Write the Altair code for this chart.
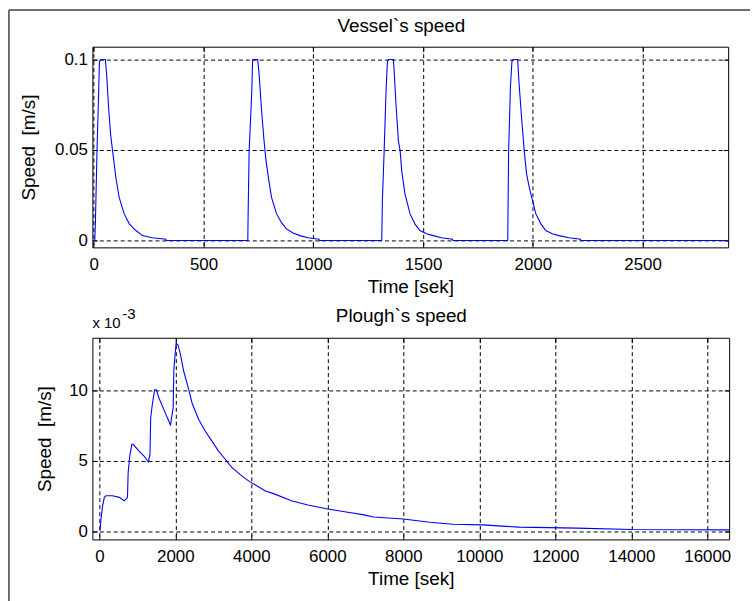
import altair as alt
import pandas as pd

FONT = "Liberation Sans"

# ---- Vessel's speed (m/s) ----
vessel_time = [0, 5, 8, 15, 23, 26, 32, 53, 59, 68, 77, 86, 101, 116, 139, 162, 192, 222, 267, 328, 330,
               702, 703, 708, 720, 724, 747, 753, 765, 776, 785, 798, 810, 833, 855, 878, 908, 939, 976, 1026, 1029,
               1312, 1315, 1323, 1332, 1338, 1343, 1365, 1368, 1377, 1388, 1396, 1403, 1418, 1441, 1463, 1486, 1516, 1546, 1584, 1634, 1636,
               1886, 1890, 1898, 1905, 1911, 1931, 1938, 1949, 1961, 1972, 1984, 1999, 2014, 2037, 2059, 2089, 2119, 2165, 2217, 2219, 2890]
vessel_speed = [0, 0, 0.011, 0.0495, 0.084, 0.099, 0.1, 0.1, 0.0916, 0.0733, 0.0586, 0.0495, 0.0348, 0.0238, 0.0147, 0.0092, 0.0055, 0.0027, 0.0015, 0.0007, 0,
                0, 0.011, 0.0495, 0.0824, 0.1, 0.1, 0.0925, 0.0714, 0.055, 0.044, 0.033, 0.0238, 0.0147, 0.010, 0.0064, 0.0042, 0.0027, 0.0015, 0.0007, 0,
                0, 0.022, 0.0495, 0.084, 0.099, 0.1, 0.1, 0.095, 0.075, 0.055, 0.0495, 0.0385, 0.0256, 0.0147, 0.0092, 0.0055, 0.0037, 0.0027, 0.0015, 0.0007, 0,
                0, 0.0495, 0.084, 0.099, 0.1, 0.1, 0.0861, 0.0678, 0.0495, 0.0366, 0.0293, 0.022, 0.0147, 0.0092, 0.0055, 0.0037, 0.0027, 0.0015, 0.0007, 0, 0]

# ---- Plough's speed (x 10^-3 m/s) ----
plough_time = [17, 44, 87, 131, 174, 349, 523, 654, 741, 758, 802, 854, 889, 1046, 1176, 1290, 1333, 1351, 1394,
               1455, 1499, 1569, 1699, 1830, 1874, 1900, 1943, 1961, 2005, 2021, 2073, 2136, 2222, 2353, 2440,
               2614, 2789, 2963, 3137, 3312, 3486, 3747, 3965, 4358, 4619, 5054, 5490, 6013, 6536, 6972,
               7216, 8000, 8698, 9307, 10092, 11051, 12575, 14013, 16583]
plough_speed = [0.05, 0.9, 1.83, 2.42, 2.54, 2.54, 2.42, 2.18, 2.42, 4.18, 5.35, 6.18, 6.18, 5.7, 5.35, 4.93, 5.47, 8.06, 9.0,
                10.05, 10.05, 9.46, 8.64, 7.82, 7.51, 8.06, 8.76, 11.46, 12.87, 13.34, 13.22, 12.51, 11.34, 10.05, 9.11,
                7.94, 7.11, 6.41, 5.7, 5.12, 4.54, 3.94, 3.52, 2.89, 2.65, 2.18, 1.88, 1.6, 1.37, 1.18,
                1.03, 0.89, 0.66, 0.52, 0.47, 0.31, 0.24, 0.14, 0.12]

vessel_x_ticks = [0, 500, 1000, 1500, 2000, 2500]
vessel_y_ticks = [0, 0.05, 0.1]
plough_x_ticks = [0, 2000, 4000, 6000, 8000, 10000, 12000, 14000, 16000]
plough_y_ticks = [0, 5, 10]

panel_titles = ["Vessel`s speed", "Plough`s speed"]
x_title = "Time [sek]"
y_title = "Speed\u00a0 [m/s]"
exponent_base = "x 10"
exponent_power = "-3"

vessel_df = pd.DataFrame({"t": vessel_time, "v": vessel_speed})
plough_df = pd.DataFrame({"t": plough_time, "v": plough_speed})

GRID = dict(grid=True, gridColor="black", gridDash=[4, 3], gridOpacity=1, gridWidth=1)


def panel(df, xdom, ydom, xt, yt, w, h, title, ytp):
    xs = alt.Scale(domain=xdom, nice=False, zero=False)
    ys = alt.Scale(domain=ydom, nice=False, zero=False)
    main = alt.Chart(df).mark_line(color="#0000ff", strokeWidth=1.1, clip=True).encode(
        x=alt.X("t:Q", scale=xs, axis=alt.Axis(orient="bottom", values=xt, format="d", title=x_title,
                                                ticks=False, tickSize=0, domain=False, labelFontSize=17,
                                                titleFontSize=19, titleFontWeight="normal",
                                                labelPadding=9, titlePadding=5,
                                                labelFlush=False, labelOverlap=False, **GRID)),
        y=alt.Y("v:Q", scale=ys, axis=alt.Axis(orient="left", values=yt, format="~r", title=y_title,
                                                ticks=False, tickSize=0, domain=False, labelFontSize=17,
                                                titleFontSize=19, titleFontWeight="normal",
                                                labelPadding=5, titlePadding=ytp,
                                                labelFlush=False, labelOverlap=False, **GRID)),
    )

    def ticks(xo, yo):
        kw = dict(labels=False, grid=False, domain=False, ticks=True, tickSize=5, offset=-5,
                  tickColor="black", tickWidth=1, title=None)
        return alt.Chart(df).mark_line(opacity=0).encode(
            x=alt.X("t:Q", scale=xs, axis=alt.Axis(orient=xo, values=xt, **kw)),
            y=alt.Y("v:Q", scale=ys, axis=alt.Axis(orient=yo, values=yt, **kw)),
        )

    ttl = alt.Chart(alt.Data(values=[{"s": title}])).mark_text(
        font=FONT, fontSize=19, align="center", baseline="alphabetic", color="black"
    ).encode(text="s:N", x=alt.value(311), y=alt.value(-15))
    return [main, ticks("bottom", "left"), ticks("top", "right"), ttl], w, h


top_layers, tw, th = panel(vessel_df, [-6, 2890], [-0.0038, 0.1071], vessel_x_ticks, vessel_y_ticks, 640, 202,
                           panel_titles[0], 16)
border = alt.Data(values=[{"k": 1}])
border_v = alt.Chart(border).mark_rule(color="#404040", strokeWidth=1.5).encode(
    x=alt.value(-84), y=alt.value(-37), y2=alt.value(560))
border_h = alt.Chart(border).mark_rule(color="#404040", strokeWidth=1.5).encode(
    x=alt.value(-84), x2=alt.value(662), y=alt.value(-37))
top = alt.layer(*top_layers, border_v, border_h).resolve_axis(x="independent", y="independent").properties(
    width=tw, height=th)

bot_layers, bw, bh = panel(plough_df, [-183, 16575], [-0.56, 13.73], plough_x_ticks, plough_y_ticks, 641, 203,
                           panel_titles[1], 14)
bot_layers[3] = bot_layers[3].encode(y=alt.value(-16))
exp1 = alt.Chart(alt.Data(values=[{"s": exponent_base}])).mark_text(
    font=FONT, fontSize=15, align="left", baseline="alphabetic", color="black"
).encode(text="s:N", x=alt.value(0), y=alt.value(-10))
exp2 = alt.Chart(alt.Data(values=[{"s": exponent_power}])).mark_text(
    font=FONT, fontSize=15, align="left", baseline="alphabetic", color="black"
).encode(text="s:N", x=alt.value(30), y=alt.value(-19))
bottom = alt.layer(*bot_layers, exp1, exp2).resolve_axis(x="independent", y="independent").properties(
    width=bw, height=bh)

chart = alt.vconcat(top, bottom, spacing=91, bounds="flush").properties(
    padding={"left": 7, "top": 6, "right": 0, "bottom": 0},
    background="white",
).configure_view(stroke="black", strokeWidth=1).configure_axis(
    labelFont=FONT, titleFont=FONT, labelColor="black", titleColor="black", titleFontWeight="normal"
)

chart.save("out.html", embed_options={"renderer": "svg", "actions": False})
